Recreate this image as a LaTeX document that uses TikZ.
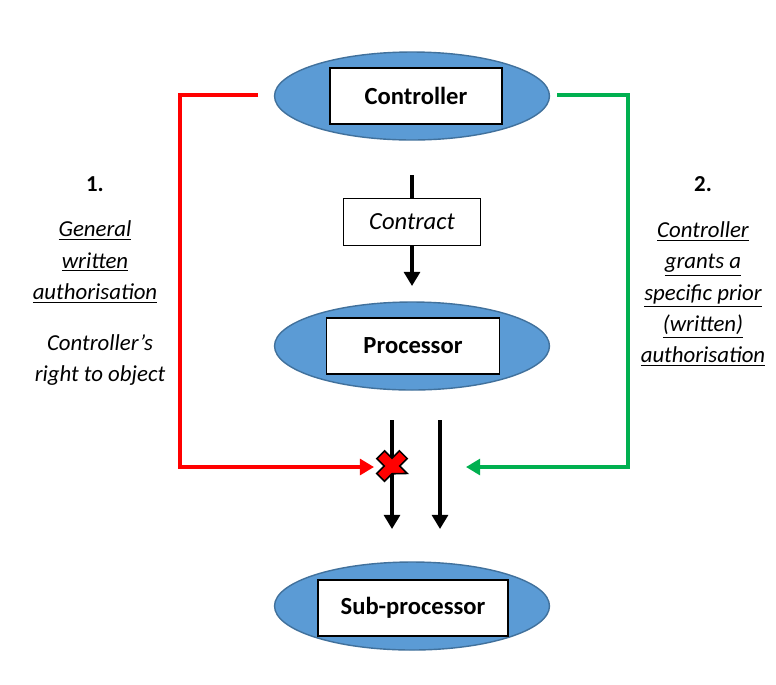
\documentclass[tikz,border=0pt]{standalone}
\usepackage{fontspec}
\setmainfont{Carlito}
\usetikzlibrary{shapes.geometric,arrows.meta}
\definecolor{blob}{HTML}{5B9BD5}
\definecolor{blobline}{HTML}{41719C}
\definecolor{okgreen}{HTML}{00B050}
\tikzset{
  party/.style={ellipse,draw=blobline,fill=blob,line width=0.8pt,minimum width=5.5cm,minimum height=1.76cm,inner sep=0pt},
  namebox/.style={draw=black,fill=white,line width=0.8pt,minimum height=1.12cm,font=\fontsize{14}{16}\selectfont\bfseries},
  side/.style={align=center,font=\fontsize{13}{17.8}\selectfont\itshape},
  flow/.style={line width=1.9pt,-{Triangle[length=8pt,width=9pt]}},
}
\begin{document}
\begin{tikzpicture}[x=0.02cm,y=-0.02cm]
\useasboundingbox[fill=white] (0,0) rectangle (776,684);
%parties
\node[party] (ctrl) at (412,96) {};
\node[namebox,minimum width=3.44cm] (ctrlbox) at (416,96) {Controller};
\node[party] (proc) at (412,346) {};
\node[namebox,minimum width=3.46cm] (procbox) at (413,346) {Processor};
\node[party] (sub) at (412,606) {};
\node[namebox,minimum width=3.8cm] (subbox) at (413,608) {Sub-processor};
%contract
\node[draw=black,fill=white,line width=0.8pt,minimum width=2.74cm,minimum height=0.94cm,font=\fontsize{14}{16}\selectfont\itshape] (contract) at (412,222) {Contract};
\coordinate (ctop) at (412,175);
\coordinate (cend) at (412,286);
\draw[line width=1.9pt] (ctop)--(contract.north);
\draw[flow] (contract.south)--(cend);
%subcontracting
\coordinate (la) at (392,420);
\coordinate (lb) at (392,529);
\coordinate (ra) at (440,420);
\coordinate (rb) at (440,529);
\draw[flow] (la)--(lb);
\draw[flow] (ra)--(rb);
\coordinate (cross) at (392,466);
\draw[fill=red,line width=0.9pt,shift={(cross)},rotate=45]
  (5.5,16)--(5.5,5.5)--(16,5.5)--(16,-5.5)--(5.5,-5.5)--(5.5,-16)--(-5.5,-16)--(-5.5,-5.5)--(-16,-5.5)--(-16,5.5)--(-5.5,5.5)--cycle;
%option 1
\coordinate (r0) at (258,95);
\coordinate (r1) at (180,95);
\coordinate (r2) at (180,467);
\coordinate (r3) at (374,467);
\draw[red,line width=1.9pt,-{Triangle[length=8pt,width=9pt]}] (r0)--(r1)--(r2)--(r3);
%option 2
\coordinate (g0) at (557,95);
\coordinate (g1) at (628,95);
\coordinate (g2) at (628,467);
\coordinate (g3) at (466,467);
\draw[okgreen,line width=1.9pt,-{Triangle[length=8pt,width=9pt]}] (g0)--(g1)--(g2)--(g3);
%text
\node[font=\fontsize{13}{16}\selectfont\bfseries] (one) at (95,184) {1.};
\node[side] (gen) at (95,262) {\underline{General}\\\underline{written}\\\underline{authorisation}};
\node[side] (obj) at (100,360) {Controller’s\\right to object};
\node[font=\fontsize{13}{16}\selectfont\bfseries] (two) at (703,184) {2.};
\node[side] (grant) at (703,294) {\underline{Controller}\\\underline{grants a}\\\underline{specific prior}\\\underline{(written)}\\\underline{authorisation}};
\end{tikzpicture}
\end{document}
